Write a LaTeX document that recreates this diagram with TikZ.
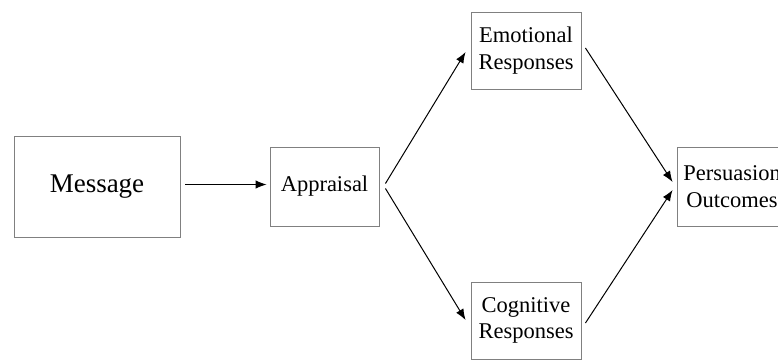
\documentclass[tikz,border=0pt]{standalone}
\usepackage{fontspec}
\setmainfont{Liberation Serif}
\usetikzlibrary{arrows.meta}
\begin{document}
\begin{tikzpicture}[x=1pt,y=-1pt,
  box/.style={draw=black!50,line width=0.9pt,inner sep=0pt,align=center,
    font=\fontsize{22.5}{26.5}\selectfont},
  arr/.style={draw=black,line width=1pt,-{Latex[length=11pt,width=8.5pt]}}]
\useasboundingbox (0,0) rectangle (778,360);
\clip (0,0) rectangle (778,360);
\node[box,minimum width=166pt,minimum height=101pt,font=\fontsize{27}{32}\selectfont] (msg) at (97,186.5) {Message};
\node[box,minimum width=109pt,minimum height=79pt] (appr) at (324.5,186.5) {Appraisal};
\node[box,minimum width=110pt,minimum height=77pt] (emo) at (526,50.5) {Emotional\\Responses};
\node[box,minimum width=110pt,minimum height=77pt] (cog) at (526,320.5) {Cognitive\\Responses};
\node[box,minimum width=110pt,minimum height=79pt] (pers) at (732,186.5) {Persuasion\\Outcomes};
\draw[arr] ([xshift=5pt,yshift=2pt]msg.east) -- ([xshift=-3pt,yshift=2pt]appr.west);
\draw[arr] ([xshift=6pt,yshift=3pt]appr.east) -- ([xshift=-5pt,yshift=-1.5pt]emo.west);
\draw[arr] ([xshift=6pt,yshift=-2pt]appr.east) -- ([xshift=-5pt,yshift=0.5pt]cog.west);
\draw[arr] ([xshift=4pt,yshift=2.5pt]emo.east) -- ([xshift=-4pt,yshift=4.5pt]pers.west);
\draw[arr] ([xshift=4pt,yshift=-2.5pt]cog.east) -- ([xshift=-4pt,yshift=-3.5pt]pers.west);
\end{tikzpicture}
\end{document}
